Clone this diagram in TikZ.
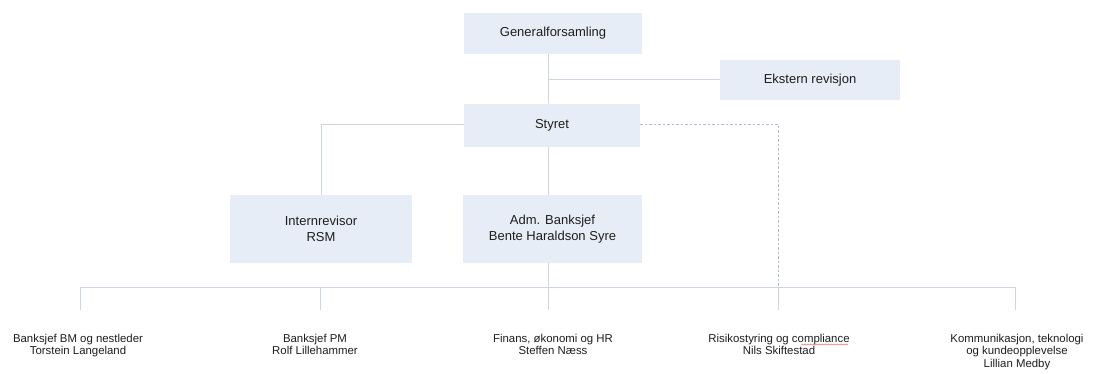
\documentclass[tikz,border=0pt]{standalone}
\usepackage{fontspec}
\setmainfont{Liberation Sans}
\usetikzlibrary{decorations.pathmorphing}
\definecolor{boxfill}{HTML}{E7EDF6}
\definecolor{linec}{HTML}{CDD4E4}
\definecolor{dashc}{HTML}{B4B9D6}
\definecolor{txt}{HTML}{1E1E1E}
\definecolor{spellred}{HTML}{E07070}
\begin{document}
\begin{tikzpicture}[x=1pt,y=-1pt,
  orgbox/.style={fill=boxfill, draw=none, minimum width=#1, text=txt, align=center,
    font=\fontsize{13}{16}\selectfont, inner sep=0pt},
  orgbox/.default=180pt,
  child/.style={text=txt, align=center, font=\fontsize{11.4}{12.5}\selectfont, inner sep=0pt, anchor=north},
  conn/.style={draw=linec, line width=0.7pt},
  dconn/.style={draw=dashc, line width=0.8pt, dash pattern=on 2.5pt off 2pt}]
\useasboundingbox (0,0) rectangle (1094,373);
\fill[white] (0,0) rectangle (1094,373);

\node[orgbox=178pt, minimum height=41pt] (gen) at (553,33) {Generalforsamling};
\node[orgbox=180pt, minimum height=40pt] (ekst) at (810,80) {Ekstern revisjon};
\node[orgbox=176pt, minimum height=43pt] (sty) at (552,125) {Styret};
\node[orgbox=182pt, minimum height=68pt] (intern) at (321,229) {Internrevisor\\RSM};
\node[orgbox=179pt, minimum height=68pt] (adm) at (552.5,229) {Adm. Banksjef\\Bente Haraldson Syre};

\node[child] (c1) at (78,334) {Banksjef BM og nestleder\\Torstein Langeland};
\node[child] (c2) at (315,334) {Banksjef PM\\Rolf Lillehammer};
\node[child] (c3) at (553,334) {Finans, økonomi og HR\\Steffen Næss};
\node[child] (c4) at (779,334) {Risikostyring og compliance\\Nils Skiftestad};
\node[child] (c5) at (1017,334) {Kommunikasjon, teknologi\\og kundeopplevelse\\Lillian Medby};

\coordinate (gj) at (548,79);
\coordinate (sl) at (321,124);
\coordinate (dr) at (778,124);
\coordinate (bus1) at (80,287);
\coordinate (bus2) at (320,287);
\coordinate (bus3) at (548,287);
\coordinate (bus4) at (778,287);
\coordinate (bus5) at (1015,287);
\coordinate (e1) at (80,310);
\coordinate (e2) at (320,310);
\coordinate (e3) at (548,310);
\coordinate (e4) at (778,310);
\coordinate (e5) at (1015,310);
\coordinate (u1) at (801,344.5);
\coordinate (u2) at (848,344.5);

\draw[conn] (gen.south -| gj) -- (sty.north -| gj);
\draw[conn] (gj) -- (ekst.west |- gj);
\draw[conn] (sty.west |- sl) -- (sl) -- (intern.north);
\draw[conn] (sty.south -| bus3) -- (adm.north -| bus3);
\draw[dconn] (sty.east |- dr) -- (dr) -- (bus4);
\draw[conn] (adm.south -| bus3) -- (e3);
\draw[conn] (bus1) -- (bus5);
\draw[conn] (bus1) -- (e1);
\draw[conn] (bus2) -- (e2);
\draw[conn] (bus4) -- (e4);
\draw[conn] (bus5) -- (e5);

% spell-check underline under "compliance"
\draw[spellred, line width=0.5pt, decorate, decoration={snake, amplitude=0.6pt, segment length=3pt}] (u1) -- (u2);
\end{tikzpicture}
\end{document}
